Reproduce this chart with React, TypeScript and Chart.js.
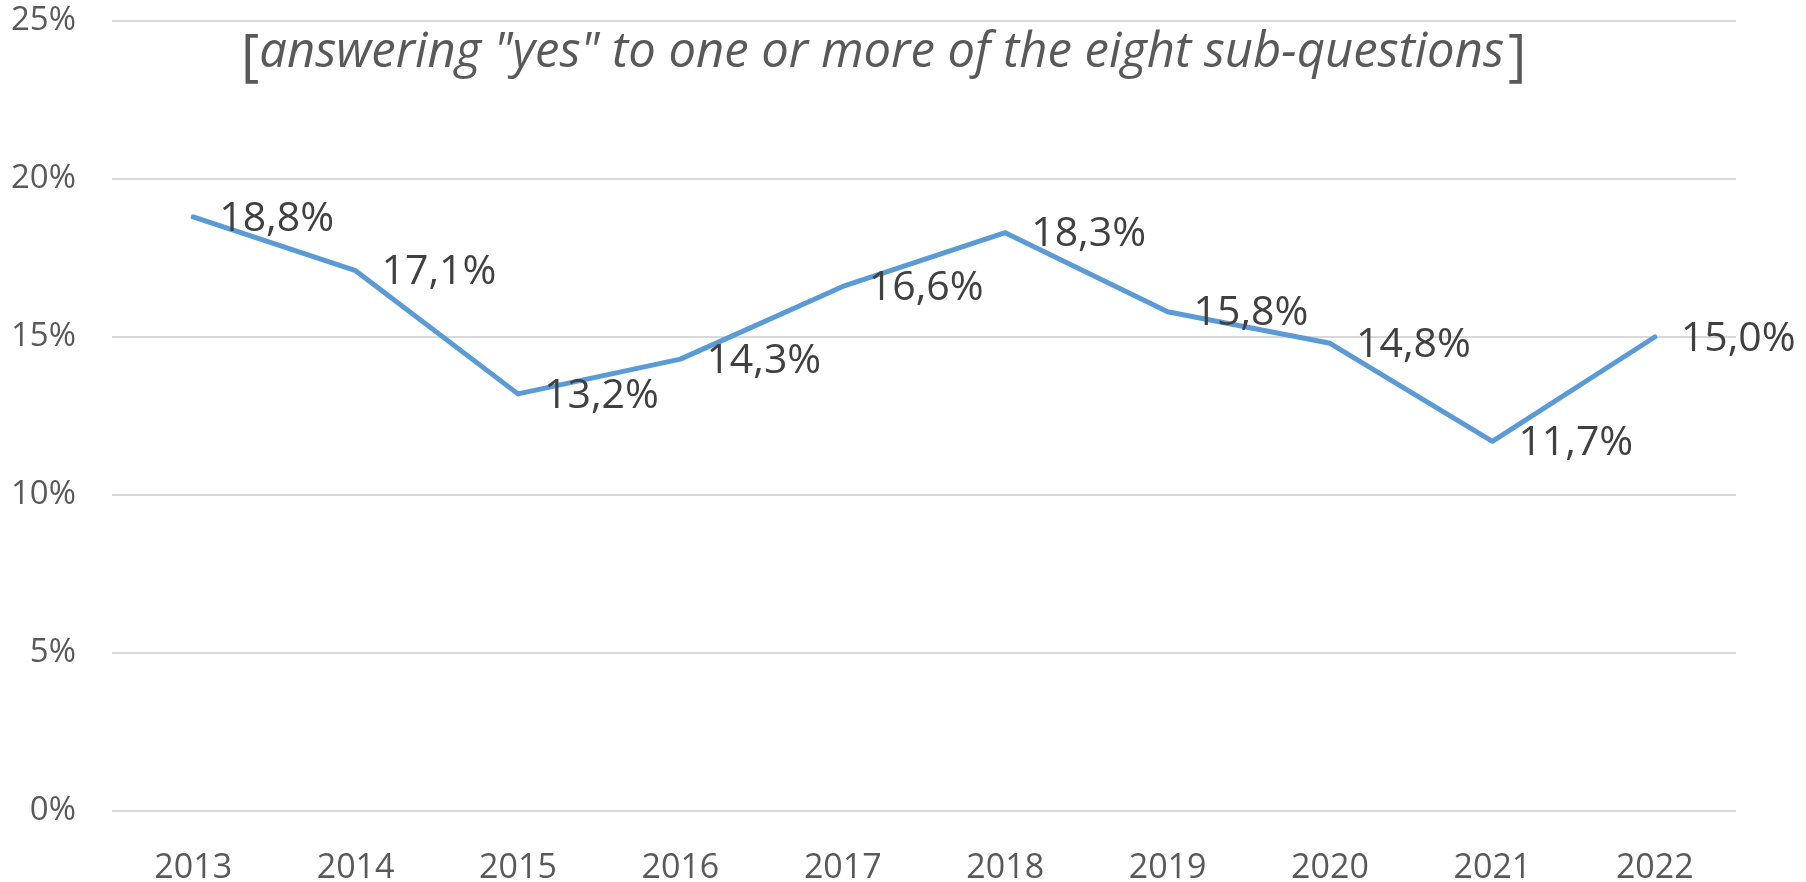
import React, { useEffect, useRef } from "react";
import { Chart, registerables } from "chart.js";

Chart.register(...registerables);

const years = ["2013", "2014", "2015", "2016", "2017", "2018", "2019", "2020", "2021", "2022"];
const shareYes = [18.8, 17.1, 13.2, 14.3, 16.6, 18.3, 15.8, 14.8, 11.7, 15.0];
const yTickValues = [0, 5, 10, 15, 20, 25];
const titleText = 'answering "yes" to one or more of the eight sub-questions';

const FONT = "'Open Sans', 'Noto Sans', sans-serif";

const labelPlugin = {
  id: "valueLabels",
  afterDatasetsDraw(chart: any) {
    const ctx = chart.ctx;
    const meta = chart.getDatasetMeta(0);
    ctx.save();
    ctx.font = `41px ${FONT}`;
    ctx.fillStyle = "#404040";
    ctx.textAlign = "left";
    ctx.textBaseline = "middle";
    meta.data.forEach((pt: any, i: number) => {
      const txt = shareYes[i].toFixed(1).replace(".", ",") + "%";
      ctx.fillText(txt, pt.x + 26, pt.y + 2);
    });
    ctx.restore();
  },
};

const titlePlugin = {
  id: "insideTitle",
  afterDraw(chart: any) {
    const ctx = chart.ctx;
    const area = chart.chartArea;
    const left = area.left + 133;
    const baseline = area.top + 46;
    const target = 1245;
    ctx.save();
    ctx.fillStyle = "#595959";
    ctx.textBaseline = "alphabetic";
    ctx.textAlign = "left";
    ctx.font = `italic 40px ${FONT}`;
    const w = ctx.measureText(titleText).width;
    const size = (40 * target) / w;
    ctx.font = `56px ${FONT}`;
    ctx.fillText("[", left - 4, baseline + 8);
    const bw = ctx.measureText("[").width;
    ctx.font = `italic ${size}px ${FONT}`;
    const tx = left - 4 + bw;
    ctx.fillText(titleText, tx, baseline);
    const tw = ctx.measureText(titleText).width;
    ctx.font = `56px ${FONT}`;
    ctx.fillText("]", tx + tw + 4, baseline + 8);
    ctx.restore();
  },
};

export default function App() {
  const ref = useRef<HTMLCanvasElement | null>(null);
  useEffect(() => {
    if (!ref.current) return;
    const chart = new Chart(ref.current, {
      type: "line",
      data: {
        labels: years,
        datasets: [
          {
            data: shareYes,
            borderColor: "#5B9BD5",
            backgroundColor: "#5B9BD5",
            borderWidth: 5,
            pointRadius: 0,
            tension: 0,
            borderCapStyle: "round",
            borderJoinStyle: "round",
          },
        ],
      },
      options: {
        animation: false,
        responsive: false,
        maintainAspectRatio: false,
        layout: { padding: { top: 21, right: 70, left: 0, bottom: 0 } },
        plugins: { legend: { display: false }, tooltip: { enabled: false }, title: { display: false } },
        scales: {
          x: {
            offset: true,
            grid: { display: false, drawTicks: false },
            border: { display: false },
            ticks: { color: "#595959", font: { family: FONT, size: 34 }, padding: 37, maxRotation: 0 },
            afterFit: (s: any) => {
              s.height = 71;
              s.paddingLeft = 0;
              s.paddingRight = 0;
            },
          },
          y: {
            min: 0,
            max: 25,
            afterBuildTicks: (s: any) => {
              s.ticks = yTickValues.map((v) => ({ value: v }));
            },
            grid: { color: "#d9d9d9", lineWidth: 2, drawTicks: false },
            border: { display: false },
            ticks: {
              color: "#595959",
              font: { family: FONT, size: 33 },
              padding: 36,
              callback: (v: any) => `${v}%`,
            },
            afterFit: (s: any) => {
              s.width = 112;
              s.paddingTop = 0;
              s.paddingBottom = 0;
            },
          },
        },
      },
      plugins: [labelPlugin, titlePlugin],
    });
    return () => chart.destroy();
  }, []);
  return (
    <div style={{ position: "fixed", left: 0, top: 0, width: 1806, height: 882, background: "#fff" }}>
      <canvas ref={ref} width={1806} height={882} style={{ display: "block", width: 1806, height: 882 }} />
    </div>
  );
}
